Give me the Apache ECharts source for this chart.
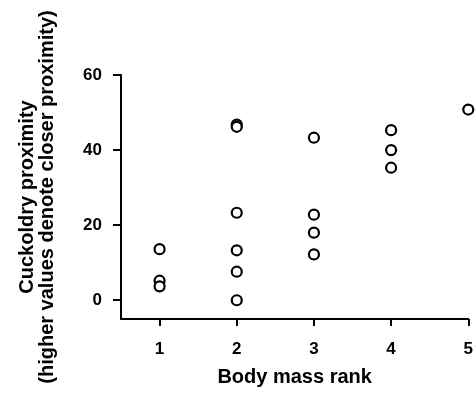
<!DOCTYPE html>
<html>
<head>
<meta charset="utf-8">
<script src="https://cdn.jsdelivr.net/npm/echarts@6/dist/echarts.min.js"></script>
<style>
  html, body { margin: 0; padding: 0; background: #fff; }
  #chart { width: 476px; height: 395px; }
</style>
</head>
<body>
<div id="chart"></div>
<script>
// body mass rank of each male and its cuckoldry proximity
const massRank = [1, 1, 1, 2, 2, 2, 2, 2, 2, 3, 3, 3, 3, 4, 4, 4, 5];
const proximity = [13.6, 5.2, 3.7, 46.8, 46.2, 23.3, 13.3, 7.6, 0, 43.3, 22.8, 18.0, 12.2, 45.3, 40.0, 35.3, 50.8];
const xTicks = [1, 2, 3, 4, 5];
const yTicks = [0, 20, 40, 60];

const font = 'Liberation Sans, Arial, sans-serif';
const chart = echarts.init(document.getElementById('chart'));

const points = massRank.map((r, i) => [r, proximity[i]]);

const option = {
  animation: false,
  grid: { left: 121, right: 7, top: 75, bottom: 76 },
  xAxis: {
    type: 'value',
    min: 0.5,
    max: 5,
    name: 'Body mass rank',
    nameLocation: 'middle',
    nameGap: 48,
    nameTextStyle: { fontFamily: font, fontWeight: 'bold', fontSize: 20, color: '#000' },
    axisLine: { onZero: false, lineStyle: { color: '#000', width: 2 } },
    axisTick: { show: true, length: 7, lineStyle: { color: '#000', width: 2 }, customValues: xTicks },
    axisLabel: { customValues: xTicks, margin: 22, fontFamily: font, fontWeight: 'bold', fontSize: 17, color: '#000' },
    splitLine: { show: false }
  },
  yAxis: {
    type: 'value',
    min: -5,
    max: 60,
    name: 'Cuckoldry proximity\n(higher values denote closer proximity)',
    nameLocation: 'middle',
    nameGap: 64,
    nameTextStyle: { fontFamily: font, fontWeight: 'bold', fontSize: 20, lineHeight: 20, color: '#000' },
    axisLine: { show: true, onZero: false, lineStyle: { color: '#000', width: 2 } },
    axisTick: { show: true, length: 8, lineStyle: { color: '#000', width: 2 }, customValues: yTicks },
    axisLabel: { customValues: yTicks, margin: 19, fontFamily: font, fontWeight: 'bold', fontSize: 17, color: '#000' },
    splitLine: { show: false }
  },
  series: [
    {
      type: 'scatter',
      data: points,
      symbol: 'circle',
      symbolSize: 10,
      itemStyle: { color: '#fff', borderColor: '#000', borderWidth: 2.2, opacity: 1 }
    }
  ]
};

chart.setOption(option);
</script>
</body>
</html>
